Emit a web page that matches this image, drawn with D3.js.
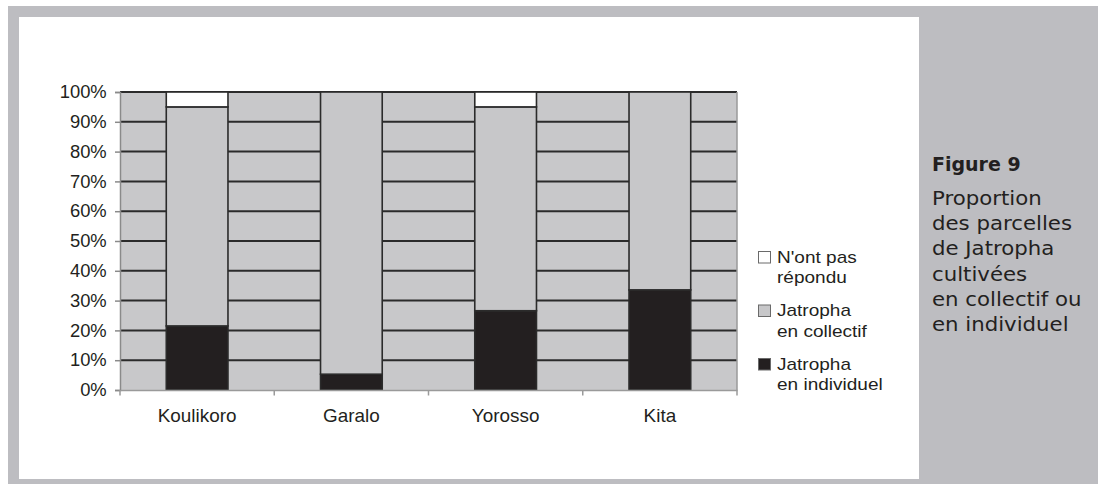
<!DOCTYPE html>
<html>
<head>
<meta charset="utf-8">
<script src="https://cdn.jsdelivr.net/npm/d3@7"></script>
<style>
  html, body { margin: 0; padding: 0; background: #ffffff; }
  svg { display: block; }
</style>
</head>
<body>
<script>
// ---- Data ----
const categories = ["Koulikoro", "Garalo", "Yorosso", "Kita"];
const individuel = [21.5, 5.3, 26.6, 33.6];
const collectif = [73.5, 94.7, 68.4, 66.4];
const nonRepondu = [5.0, 0.0, 5.0, 0.0];
const seriesKeys = ["individuel", "collectif", "nonRepondu"];
const seriesColors = ["#231f20", "#c7c7c9", "#ffffff"];
const legendLabels = [["N'ont pas", "répondu"], ["Jatropha", "en collectif"], ["Jatropha", "en individuel"]];
const legendColors = ["#ffffff", "#c7c7c9", "#231f20"];
const yTicks = [0, 10, 20, 30, 40, 50, 60, 70, 80, 90, 100];
const figureTitle = "Figure 9";
const figureCaption = ["Proportion", "des parcelles", "de Jatropha", "cultivées", "en collectif ou", "en individuel"];

const W = 1098, H = 484;
const svg = d3.select("body").append("svg").attr("width", W).attr("height", H);
const ARIAL = "Liberation Sans, Arial, Helvetica, sans-serif";
const VERD = "DejaVu Sans, Verdana, sans-serif";

// frame
svg.append("rect").attr("x", 8).attr("y", 6).attr("width", W - 8).attr("height", H - 6).attr("fill", "#bdbdc1");
svg.append("rect").attr("x", 19).attr("y", 17).attr("width", 900).attr("height", 462).attr("fill", "#ffffff");

const plot = { left: 120, right: 737, top: 92, bottom: 390 };

const table = categories.map((c, i) => ({
  cat: c, individuel: individuel[i], collectif: collectif[i], nonRepondu: nonRepondu[i]
}));
const stacked = d3.stack().keys(seriesKeys)(table);

const x = d3.scaleBand().domain(categories).range([plot.left, plot.right])
  .paddingInner(0.6).paddingOuter(0.3);
const y = d3.scaleLinear().domain([0, 100]).range([plot.bottom, plot.top]);

// plot background
svg.append("rect").attr("x", plot.left).attr("y", plot.top)
  .attr("width", plot.right - plot.left).attr("height", plot.bottom - plot.top)
  .attr("fill", "#c8c8ca");

// gridlines
svg.append("g").selectAll("line").data(yTicks.filter(d => d > 0)).join("line")
  .attr("x1", plot.left).attr("x2", plot.right)
  .attr("y1", d => y(d)).attr("y2", d => y(d))
  .attr("stroke", "#2b2b2b").attr("stroke-width", 2);

// right border
svg.append("line").attr("x1", plot.right).attr("x2", plot.right)
  .attr("y1", plot.top).attr("y2", plot.bottom).attr("stroke", "#9a9a9a").attr("stroke-width", 1.5);

// bars
const gBars = svg.append("g");
stacked.forEach((s, si) => {
  gBars.selectAll(null).data(s.filter(d => d[1] - d[0] > 0)).join("rect")
    .attr("x", d => x(d.data.cat))
    .attr("y", d => y(d[1]))
    .attr("width", x.bandwidth())
    .attr("height", d => y(d[0]) - y(d[1]))
    .attr("fill", seriesColors[si])
    .attr("stroke", "#2b2b2b").attr("stroke-width", 1.6);
});

// y axis
const ys = 1.05;
const yAxis = d3.axisLeft(y).tickValues(yTicks).tickFormat(d => d + "%").tickSize(5).tickPadding(8);
const gy = svg.append("g").attr("transform", `translate(${plot.left},0)`).call(yAxis);
gy.select(".domain").attr("stroke", "#8a8a8a").attr("stroke-width", 1.5);
gy.selectAll(".tick line").attr("stroke", "#8a8a8a").attr("stroke-width", 1.5);
gy.selectAll(".tick text").attr("font-family", ARIAL)
  .attr("font-size", 17.5).attr("fill", "#231f20")
  .attr("x", -13.3 / ys).attr("transform", `scale(${ys},1)`);

// x axis
const xs = 1.05;
const xAxis = d3.axisBottom(x).tickSize(0).tickPadding(19);
const gx = svg.append("g").attr("transform", `translate(0,${plot.bottom})`).call(xAxis);
gx.select(".domain").attr("stroke", "#9a9a9a").attr("stroke-width", 1.5);
gx.selectAll(".tick text").attr("font-family", ARIAL)
  .attr("font-size", 18).attr("fill", "#231f20").attr("transform", `scale(${xs},1)`);
// separator ticks at band boundaries
const bounds = categories.map(c => x(c) - x.step() * x.paddingInner() / 2).concat([plot.right]);
svg.append("g").selectAll("line").data(bounds).join("line")
  .attr("x1", d => d).attr("x2", d => d)
  .attr("y1", plot.bottom).attr("y2", plot.bottom + 5.5)
  .attr("stroke", "#9a9a9a").attr("stroke-width", 1.5);

// legend
const ls = 1.12;
const lg = svg.append("g");
legendLabels.forEach((lines, i) => {
  const by = 262.5 + i * 53.5;
  lg.append("rect").attr("x", 758.5).attr("y", by - 11).attr("width", 12).attr("height", 11.5)
    .attr("fill", legendColors[i]).attr("stroke", "#6a6a6a").attr("stroke-width", 1);
  lines.forEach((t, j) => {
    lg.append("text").attr("transform", `translate(777,${by + j * 20.5}) scale(${ls},1)`).text(t)
      .attr("font-family", ARIAL).attr("font-size", 17)
      .attr("fill", "#231f20");
  });
});

// caption on right
svg.append("text").attr("x", 932).attr("y", 170.5).text(figureTitle)
  .attr("font-family", VERD).attr("font-weight", "bold")
  .attr("font-size", 19).attr("fill", "#231f20");
const cs = 1.12;
figureCaption.forEach((t, i) => {
  svg.append("text").attr("transform", `translate(932,${204.8 + i * 25.3}) scale(${cs},1)`).text(t)
    .attr("font-family", VERD)
    .attr("font-size", 19).attr("fill", "#231f20");
});
</script>
</body>
</html>
